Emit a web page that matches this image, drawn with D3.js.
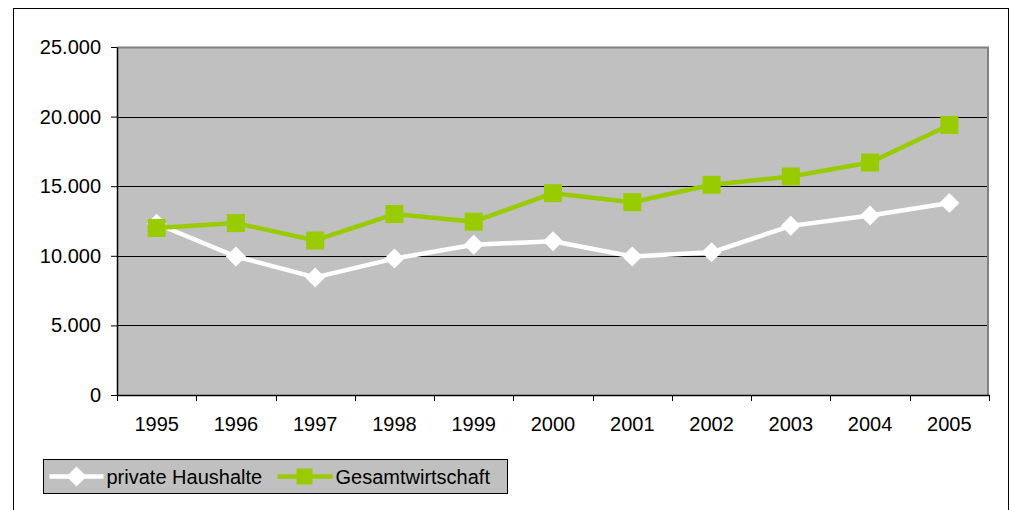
<!DOCTYPE html>
<html>
<head>
<meta charset="utf-8">
<script src="https://cdn.jsdelivr.net/npm/d3@7"></script>
<style>
  body { margin: 0; background: #fff; }
  text { font-family: "Liberation Sans", Arial, sans-serif; }
</style>
</head>
<body>
<svg id="chart" width="1010" height="510"></svg>
<script>
var years = ["1995", "1996", "1997", "1998", "1999", "2000", "2001", "2002", "2003", "2004", "2005"];
var privateHaushalte = [12300, 9950, 8450, 9800, 10800, 11050, 9950, 10250, 12150, 12900, 13800];
var gesamtwirtschaft = [12000, 12350, 11100, 13000, 12450, 14500, 13850, 15100, 15700, 16700, 19400];
var yTicks = [0, 5000, 10000, 15000, 20000, 25000];
var seriesNames = ["private Haushalte", "Gesamtwirtschaft"];

let svg = d3.select("#chart");
let margin = {top: 47, left: 117, right: 21, bottom: 115}
let width = 1010 - margin.left - margin.right,
    height = 510 - margin.top - margin.bottom;

// outer frame
svg.append('rect')
   .attr('x', 13.5).attr('y', 8.5)
   .attr('width', 995).attr('height', 520)
   .attr('fill', 'none').attr('stroke', '#000').attr('stroke-width', 1)

var x = d3.scaleBand().domain(years).range([0, width]);
var y = d3.scaleLinear().domain([0, 25000]).range([height, 0]);

let g = svg.append('g').attr('transform', 'translate(' + margin.left + ', ' + margin.top + ')')

// plot area
g.append('rect')
 .attr('width', width).attr('height', height)
 .attr('fill', '#c0c0c0')

// gridlines
g.selectAll('.grid')
 .data(yTicks.slice(1, -1))
 .enter().append('line')
 .attr('x1', 0).attr('x2', width)
 .attr('y1', d => Math.round(y(d)) + 0.5).attr('y2', d => Math.round(y(d)) + 0.5)
 .attr('stroke', '#000').attr('stroke-width', 1)

// top and right border of plot
g.append('path')
 .attr('d', 'M0,0.5H' + (width - 1) + 'V' + height)
 .attr('fill', 'none').attr('stroke', '#808080').attr('stroke-width', 2)

var fmt = d3.formatLocale({decimal: ",", thousands: ".", grouping: [3], currency: ["", ""]}).format(",d");

// y axis
let yAxis = g.append('g')
 .call(d3.axisLeft(y).tickValues(yTicks).tickSize(6).tickSizeOuter(0).tickPadding(10).tickFormat(fmt))
yAxis.select('.domain').attr('stroke', '#000').attr('stroke-width', 1.5)
yAxis.selectAll('text').attr('font-size', 20).attr('fill', '#000')
 .attr('font-family', '"Liberation Sans", Arial, sans-serif')
yAxis.selectAll('.tick line').attr('stroke', '#000')

// x axis
let xAxis = g.append('g').attr('transform', 'translate(0,' + height + ')')
 .call(d3.axisBottom(x).tickSize(0).tickSizeOuter(0).tickPadding(22))
xAxis.select('.domain').attr('stroke', '#000').attr('stroke-width', 1.5)
xAxis.selectAll('text').attr('font-size', 20).attr('fill', '#000')
 .attr('font-family', '"Liberation Sans", Arial, sans-serif')
xAxis.selectAll('.xtick')
 .data(d3.range(years.length + 1))
 .enter().append('line')
 .attr('class', 'xtick')
 .attr('x1', i => Math.round(i * x.step()) + 0.5).attr('x2', i => Math.round(i * x.step()) + 0.5)
 .attr('y1', 0).attr('y2', 6)
 .attr('stroke', '#000')

var line = d3.line()
  .x((d, i) => x(years[i]) + x.bandwidth() / 2)
  .y(d => y(d))

// private Haushalte
g.append('path')
 .datum(privateHaushalte)
 .attr('d', line)
 .attr('fill', 'none').attr('stroke', '#fff').attr('stroke-width', 4.5)
 .attr('stroke-linejoin', 'round')

var diamond = 'M0,-10L10,0L0,10L-10,0Z';
g.selectAll('.dia')
 .data(privateHaushalte)
 .enter().append('path')
 .attr('class', 'dia')
 .attr('transform', (d, i) => 'translate(' + (x(years[i]) + x.bandwidth() / 2) + ',' + y(d) + ')')
 .attr('d', diamond)
 .attr('fill', '#fff')

// Gesamtwirtschaft
g.append('path')
 .datum(gesamtwirtschaft)
 .attr('d', line)
 .attr('fill', 'none').attr('stroke', '#99cc00').attr('stroke-width', 4.5)
 .attr('stroke-linejoin', 'round')

g.selectAll('.sq')
 .data(gesamtwirtschaft)
 .enter().append('rect')
 .attr('class', 'sq')
 .attr('x', (d, i) => x(years[i]) + x.bandwidth() / 2 - 9)
 .attr('y', d => y(d) - 9)
 .attr('width', 18).attr('height', 18)
 .attr('fill', '#99cc00')

// legend
let legend = svg.append('g').attr('transform', 'translate(43.5, 459.5)')
legend.append('rect')
 .attr('width', 464).attr('height', 34)
 .attr('fill', '#c0c0c0').attr('stroke', '#000').attr('stroke-width', 1)

let lg1 = legend.append('g').attr('transform', 'translate(0,17)')
lg1.append('line').attr('x1', 6).attr('x2', 60).attr('stroke', '#fff').attr('stroke-width', 4.5)
lg1.append('path').attr('transform', 'translate(33,0)').attr('d', diamond).attr('fill', '#fff')
lg1.append('text').attr('x', 63).attr('y', 7).attr('font-size', 20).text(seriesNames[0])

let lg2 = legend.append('g').attr('transform', 'translate(234,17)')
lg2.append('line').attr('x1', 0).attr('x2', 55).attr('stroke', '#99cc00').attr('stroke-width', 4.5)
lg2.append('rect').attr('x', 19).attr('y', -8).attr('width', 16).attr('height', 16).attr('fill', '#99cc00')
lg2.append('text').attr('x', 58).attr('y', 7).attr('font-size', 20).text(seriesNames[1])
</script>
</body>
</html>
